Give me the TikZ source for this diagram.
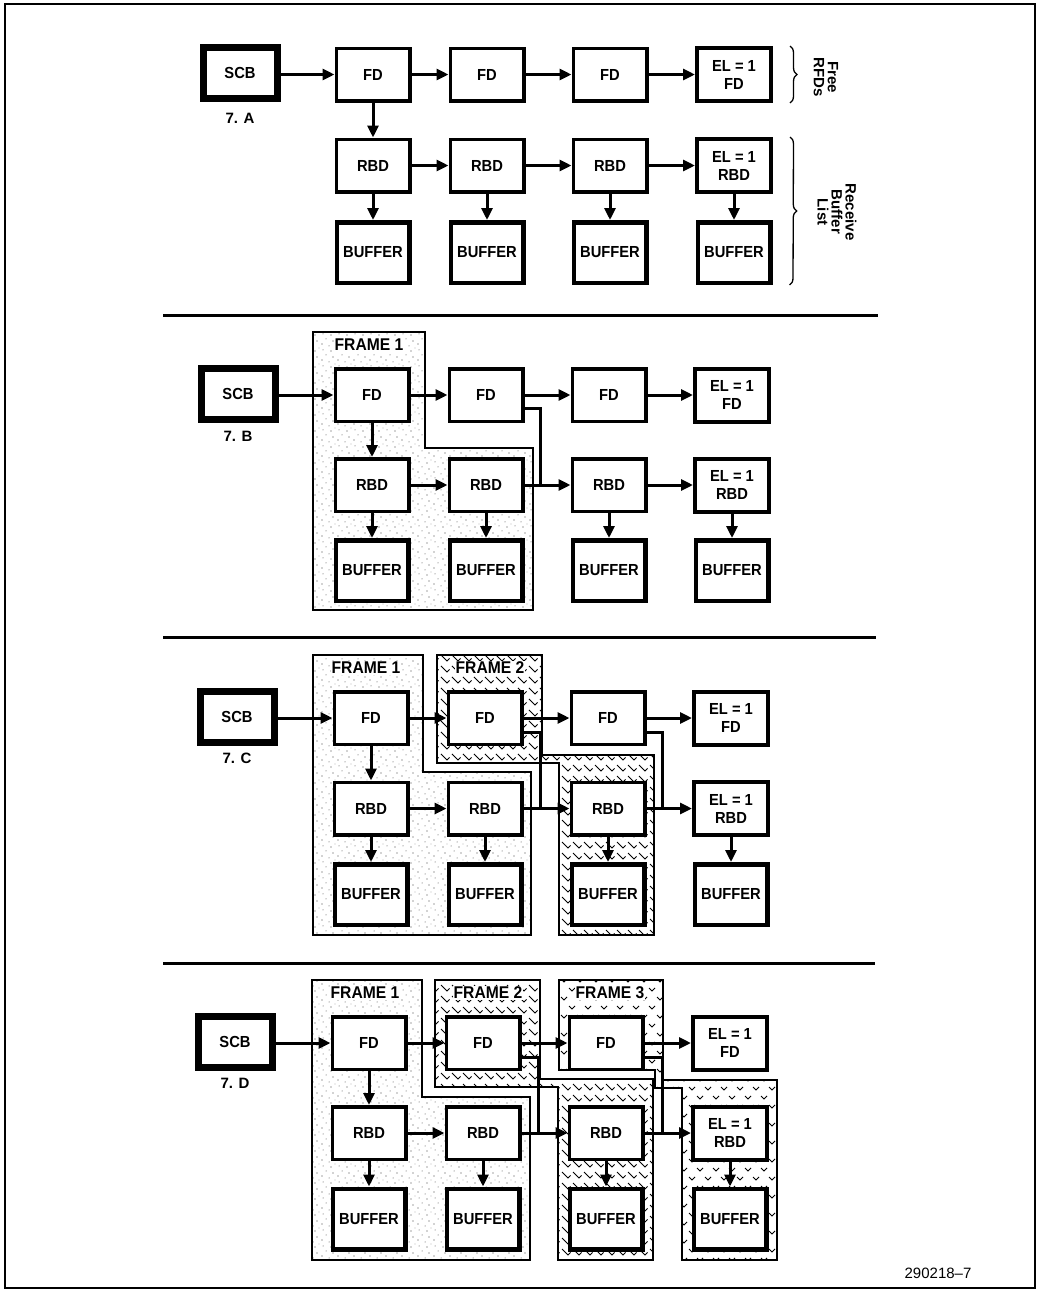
\documentclass[tikz,border=0pt]{standalone}
\usepackage{fontspec}
\setmainfont{Liberation Sans}
\newfontfamily\boxfont{Liberation Sans}[FakeStretch=0.92]
\usetikzlibrary{arrows.meta,patterns,decorations.pathreplacing,calc}

\pgfdeclarepatternformonly{stipple}{\pgfqpoint{-1pt}{-1pt}}{\pgfqpoint{17pt}{17pt}}{\pgfqpoint{16pt}{16pt}}{%
 \pgfpathcircle{\pgfqpoint{2pt}{3pt}}{0.6pt}
 \pgfpathcircle{\pgfqpoint{9pt}{1pt}}{0.5pt}
 \pgfpathcircle{\pgfqpoint{13pt}{6pt}}{0.6pt}
 \pgfpathcircle{\pgfqpoint{6pt}{8pt}}{0.5pt}
 \pgfpathcircle{\pgfqpoint{11pt}{12pt}}{0.6pt}
 \pgfpathcircle{\pgfqpoint{3pt}{13pt}}{0.5pt}
 \pgfpathcircle{\pgfqpoint{15pt}{15pt}}{0.4pt}
 \pgfusepath{fill}}

\pgfdeclarepatternformonly{herring}{\pgfqpoint{-1pt}{-1pt}}{\pgfqpoint{12pt}{12pt}}{\pgfqpoint{11pt}{11pt}}{%
 \pgfsetlinewidth{0.9pt}
 \pgfpathmoveto{\pgfqpoint{1pt}{9pt}}\pgfpathlineto{\pgfqpoint{7pt}{3pt}}\pgfpathlineto{\pgfqpoint{9.5pt}{5.5pt}}
 \pgfusepath{stroke}}

\pgfdeclarepatternformonly{chevron}{\pgfqpoint{-1pt}{-1pt}}{\pgfqpoint{17pt}{19pt}}{\pgfqpoint{16pt}{18pt}}{%
 \pgfsetlinewidth{0.9pt}
 \pgfpathmoveto{\pgfqpoint{1pt}{6pt}}\pgfpathlineto{\pgfqpoint{4pt}{3pt}}\pgfpathlineto{\pgfqpoint{7pt}{6pt}}
 \pgfpathmoveto{\pgfqpoint{9pt}{15pt}}\pgfpathlineto{\pgfqpoint{12pt}{12pt}}\pgfpathlineto{\pgfqpoint{15pt}{15pt}}
 \pgfusepath{stroke}}

\tikzset{
 x=1pt,y=-1pt,
 lbl/.style={font=\fontsize{15}{17}\selectfont\bfseries, inner sep=1pt},
 framelbl/.style={font=\fontsize{17}{19}\selectfont\boxfont\bfseries, inner sep=1pt, fill=white},
 bxbase/.style={draw, fill=white, inner sep=0pt, align=center, font=\fontsize{16}{18}\selectfont\boxfont\bfseries},
 fdbox/.style={bxbase, line width=3.5pt, minimum width=73.5pt, minimum height=52.5pt},
 elbox/.style={bxbase, line width=4pt, minimum width=74pt, minimum height=53pt},
 bufbox/.style={bxbase, line width=4.5pt, minimum width=72.5pt, minimum height=60.5pt},
 scbbox/.style={bxbase, line width=7pt, minimum width=74pt, minimum height=51pt},
 arr/.style={line width=3pt, -{Triangle[length=12pt,width=11pt]}},
 link/.style={line width=3pt},
 frameone/.style={line width=1.3pt, pattern=stipple, pattern color=black!75},
 frametwo/.style={line width=1.3pt, pattern=herring, pattern color=black},
 framethree/.style={line width=1.3pt, pattern=chevron, pattern color=black},
 sep/.style={line width=3pt},
 bracestyle/.style={line width=1.3pt, decorate, decoration={brace, amplitude=7pt}},
 sidetxt/.style={rotate=-90, align=center, font=\fontsize{15}{14}\selectfont\bfseries},
}

\newcommand\secboxes[9]{%
 \node[scbbox] (#1SCB) at (#2,#7-1.5) {SCB};
 \node[fdbox] (#1FD1) at (#3,#7) {FD};
 \node[fdbox] (#1FD2) at (#4,#7) {FD};
 \node[fdbox] (#1FD3) at (#5,#7) {FD};
 \node[elbox] (#1FD4) at (#6,#7) {EL = 1\\FD};
 \node[fdbox] (#1RBD1) at (#3,#8) {RBD};
 \node[fdbox] (#1RBD2) at (#4,#8) {RBD};
 \node[fdbox] (#1RBD3) at (#5,#8) {RBD};
 \node[elbox] (#1RBD4) at (#6,#8) {EL = 1\\RBD};
 \node[bufbox] (#1BUF1) at (#3,#9) {BUFFER};
 \node[bufbox] (#1BUF2) at (#4,#9) {BUFFER};
 \node[bufbox] (#1BUF3) at (#5,#9) {BUFFER};
 \node[bufbox] (#1BUF4) at (#6,#9) {BUFFER};
}

\begin{document}
\begin{tikzpicture}
\useasboundingbox (0,0) rectangle (1039,1291);
\draw[line width=2pt] (5,4) rectangle (1035,1288);

% separators
\draw[sep] (163,315) -- (878,315);
\draw[sep] (163,637) -- (876,637);
\draw[sep] (163,963) -- (875,963);

% frames
\draw[frameone] (313,332) -- (425,332) -- (425,448) -- (533,448) -- (533,610) -- (313,610) -- cycle;
\draw[frameone] (313,655) -- (423,655) -- (423,772) -- (531,772) -- (531,935) -- (313,935) -- cycle;
\draw[frametwo] (437,655) -- (542,655) -- (542,755) -- (654,755) -- (654,935) -- (559,935) -- (559,763) -- (437,763) -- cycle;
\draw[frameone] (312,980) -- (422,980) -- (422,1097) -- (530,1097) -- (530,1260) -- (312,1260) -- cycle;
\draw[frametwo] (435,980) -- (540,980) -- (540,1079) -- (653,1079) -- (653,1260) -- (558,1260) -- (558,1087) -- (435,1087) -- cycle;
\draw[framethree] (559,980) -- (663,980) -- (663,1080) -- (777,1080) -- (777,1260) -- (682,1260) -- (682,1088) -- (655,1088) -- (655,1070) -- (559,1070) -- cycle;

\node[framelbl] (bF1) at (369,345) {FRAME 1};
\node[framelbl] (cF1) at (366,668) {FRAME 1};
\node[framelbl] (cF2) at (490,668) {FRAME 2};
\node[framelbl] (dF1) at (365,993) {FRAME 1};
\node[framelbl] (dF2) at (488,993) {FRAME 2};
\node[framelbl] (dF3) at (610,993) {FRAME 3};

% boxes
\secboxes{a}{240}{373}{487}{610}{734}{74.5}{165.5}{252.5}
\secboxes{b}{238}{372}{486}{609}{732}{395}{485}{570.5}
\secboxes{c}{237}{371}{485}{608}{731}{718}{808.5}{894.5}
\secboxes{d}{235}{369}{483}{606}{730}{1043}{1133}{1219}

\node[lbl] (alab) at (240,118) {7. A};
\node[lbl] (blab) at (238,436) {7. B};
\node[lbl] (clab) at (237,758) {7. C};
\node[lbl] (dlab) at (235,1083) {7. D};

% common connectors
\foreach \p in {a,b,c,d}{
 \draw[arr] (\p SCB.east |- \p FD1.west) -- (\p FD1.west);
 \draw[arr] (\p FD1.east) -- (\p FD2.west);
 \draw[arr] (\p FD2.east) -- (\p FD3.west);
 \draw[arr] (\p FD3.east) -- (\p FD4.west);
 \draw[arr] (\p FD1.south) -- (\p RBD1.north);
 \draw[arr] (\p RBD1.east) -- (\p RBD2.west);
 \draw[arr] (\p RBD2.east) -- (\p RBD3.west);
 \draw[arr] (\p RBD3.east) -- (\p RBD4.west);
 \draw[arr] (\p RBD1.south) -- (\p BUF1.north);
 \draw[arr] (\p RBD2.south) -- (\p BUF2.north);
 \draw[arr] (\p RBD3.south) -- (\p BUF3.north);
 \draw[arr] (\p RBD4.south) -- (\p BUF4.north);
}

% extra links
\draw[link] ([yshift=-13pt]bFD2.east) -| ([xshift=16pt]bRBD2.east);
\draw[link] ([yshift=-14pt]cFD2.east) -| ([xshift=17pt]cRBD2.east);
\draw[link] ([yshift=-14pt]cFD3.east) -| ([xshift=16pt]cRBD3.east);
\draw[link] ([yshift=-14pt]dFD2.east) -| ([xshift=17pt]dRBD2.east);
\draw[link] ([yshift=-14pt]dFD3.east) -| ([xshift=18pt]dRBD3.east);

% braces
\draw[bracestyle] ([xshift=17pt]aFD4.north east) -- ([xshift=17pt]aFD4.south east);
\draw[bracestyle] ([xshift=17pt]aRBD4.north east) -- ([xshift=17pt]aBUF4.south east);
\node[sidetxt] (freetxt) at (826,77) {Free\\RFDs};
\node[sidetxt] (rbltxt) at (837,212) {Receive\\Buffer\\List};

\node[font=\fontsize{15}{17}\selectfont] (fignum) at (938,1273) {290218–7};
\end{tikzpicture}
\end{document}
